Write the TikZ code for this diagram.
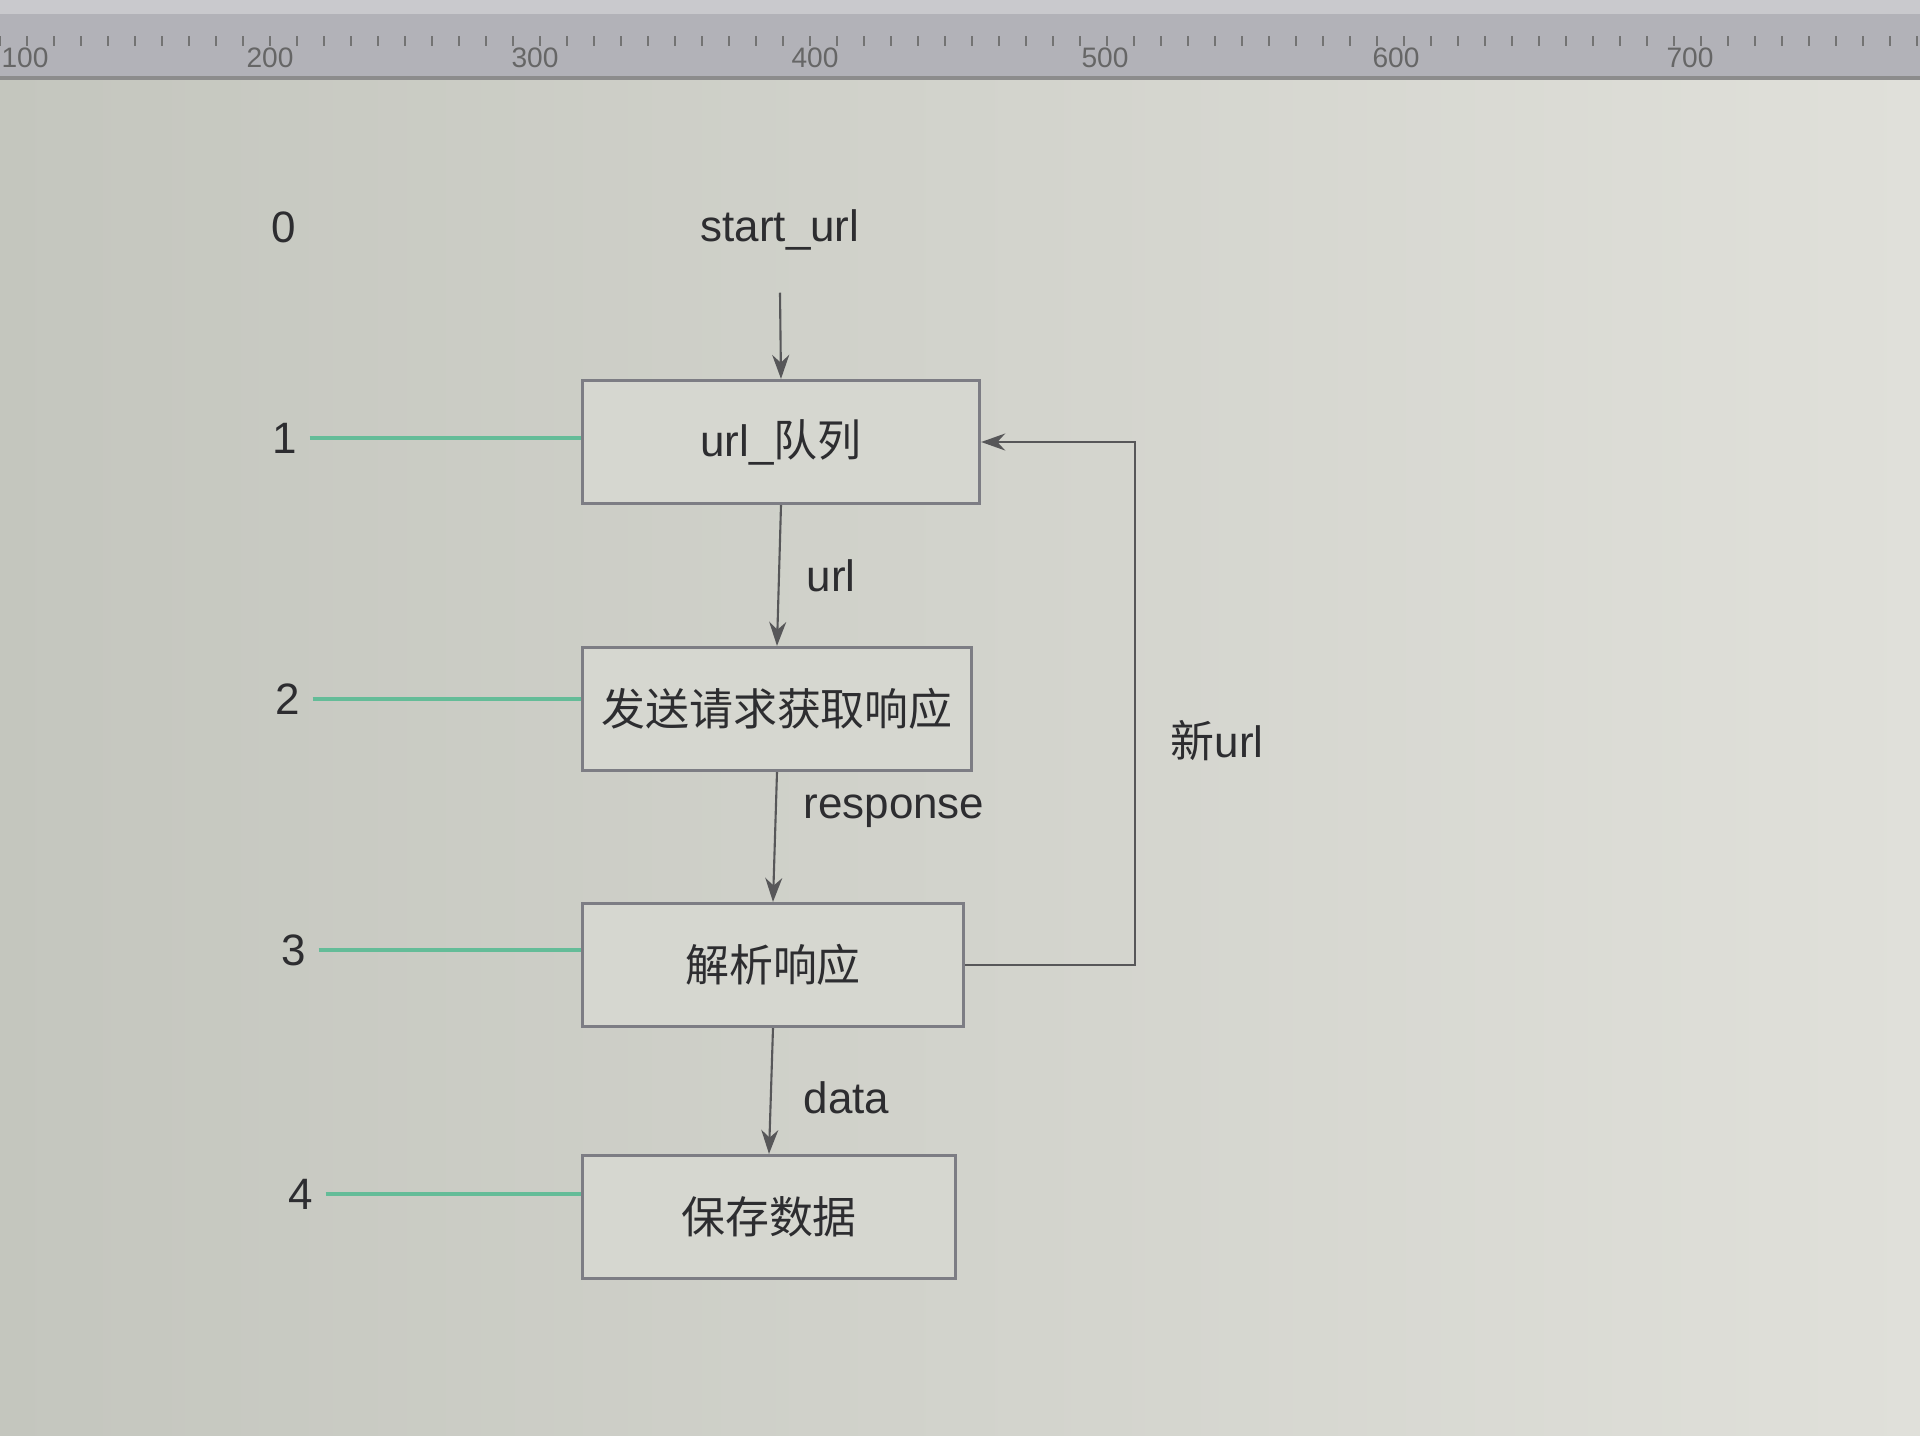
\documentclass[tikz,border=0pt]{standalone}
\usepackage{fontspec}
\setmainfont{Liberation Sans}
\newfontfamily\cjk{Noto Sans CJK SC}
\usetikzlibrary{arrows.meta}
\definecolor{screenl}{RGB}{196,198,190}
\definecolor{screenr}{RGB}{224,224,218}
\definecolor{rulerbg}{RGB}{178,178,184}
\definecolor{boxline}{RGB}{125,125,132}
\definecolor{boxfill}{RGB}{214,215,208}
\definecolor{ink}{RGB}{45,45,48}
\definecolor{marker}{RGB}{100,188,152}
\tikzset{
  stepbox/.style={draw=boxline, line width=0.9pt, fill=boxfill, minimum height=1.23cm, inner sep=0pt, text=ink},
  flow/.style={draw=ink!80, line width=0.6pt, -{Stealth[length=2.4mm,width=1.7mm]}},
  tagline/.style={draw=marker, line width=1.2pt},
  flowlabel/.style={text=ink}
}

\begin{document}
\begin{tikzpicture}[x=0.01cm, y=-0.01cm, font=\fontsize{12.5}{15}\selectfont]
			%%%%% START %%%%%
			\useasboundingbox (0, 0) rectangle (1920, 1436);
			\shade[left color=screenl, right color=screenr] (0, 0) rectangle (1920, 1436);
			
			% ruler
			\fill[rulerbg] (0, 0) rectangle (1920, 78);
			\fill[rulerbg!70!white] (0, 0) rectangle (1920, 14);
			\draw[black!45, line width=1.2pt] (0, 78) -- (1920, 78);
			\foreach \x in {0, 27, ..., 1920}
				\draw[black!55, line width=0.6pt] (\x, 36) -- (\x, 46);
			\foreach \n/\x in {100/25, 200/270, 300/535, 400/815, 500/1105, 600/1396, 700/1690}
				\node[font=\fontsize{8}{9}\selectfont, text=black!60] at (\x, 58) {\n};
			
			% steps
			\node[text=ink] (start) at (780, 230) {start\_url};
			\node[stepbox, minimum width=3.97cm] (queue) at (781, 442) {url\_{\cjk 队列}};
			\node[stepbox, minimum width=3.88cm] (fetch) at (777, 709) {{\cjk 发送请求获取响应}};
			\node[stepbox, minimum width=3.81cm] (parse) at (773, 965) {{\cjk 解析响应}};
			\node[stepbox, minimum width=3.72cm] (save) at (769, 1217) {{\cjk 保存数据}};
			
			\draw[flow] ([yshift=-0.3cm]start.south) -- (queue.north);
			\draw[flow] (queue.south) -- (fetch.north) node[flowlabel, midway, right=1.5mm] {url};
			\draw[flow] (fetch.south) -- (parse.north) node[flowlabel, pos=0.3, right=1.5mm] {response};
			\draw[flow] (parse.south) -- (save.north) node[flowlabel, pos=0.55, right=2mm] {data};
			
			\coordinate (loop) at (1135, 0);
			\draw[flow] (parse.east) -- (parse.east -| loop) |- (queue.east)
				node[flowlabel, pos=0.215, right=2.3mm] {{\cjk 新}url};
			
			% step numbers
			\node[text=ink] (n0) at (284, 227) {0};
			\node[text=ink] (n1) at (285, 438) {1};
			\node[text=ink] (n2) at (288, 699) {2};
			\node[text=ink] (n3) at (294, 950) {3};
			\node[text=ink] (n4) at (301, 1194) {4};
			
			\draw[tagline] (n1.east) -- (n1.east -| queue.west);
			\draw[tagline] (n2.east) -- (n2.east -| fetch.west);
			\draw[tagline] (n3.east) -- (n3.east -| parse.west);
			\draw[tagline] (n4.east) -- (n4.east -| save.west);
			%%%%% END %%%%%
		\end{tikzpicture}
\end{document}
